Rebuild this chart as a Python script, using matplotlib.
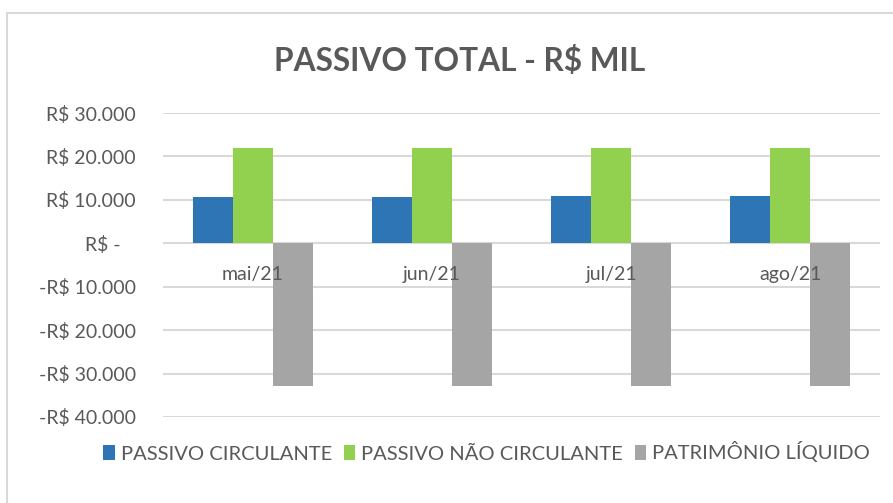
import matplotlib.pyplot as plt
import numpy as np
from matplotlib.patches import Rectangle

# dados (R$ mil)
meses = ['mai/21', 'jun/21', 'jul/21', 'ago/21']
passivo_circulante = [10700, 10700, 11000, 11000]
passivo_nao_circulante = [21900, 21900, 21900, 21900]
patrimonio_liquido = [-32800, -32800, -32800, -32800]
series_nomes = ['PASSIVO CIRCULANTE', 'PASSIVO NÃO CIRCULANTE', 'PATRIMÔNIO LÍQUIDO']
cores = ['#2e75b6', '#92d050', '#a5a5a5']
yticks = [30000, 20000, 10000, 0, -10000, -20000, -30000, -40000]
ytick_labels = ['R$ 30.000', 'R$ 20.000', 'R$ 10.000', 'R$ -   ',
                '-R$ 10.000', '-R$ 20.000', '-R$ 30.000', '-R$ 40.000']

plt.rcParams['font.family'] = ['Lato', 'DejaVu Sans']
cinza_txt = '#595959'

fig = plt.figure(figsize=(8.93, 5.03), dpi=100)
ax = fig.add_axes([163/893, 1-417/503, (880-163)/893, (417-113)/503])

x = np.arange(len(meses))
w = 0.223
valores = [passivo_circulante, passivo_nao_circulante, patrimonio_liquido]
for i, (v, c, n) in enumerate(zip(valores, cores, series_nomes)):
    ax.bar(x + (i-1)*w, v, w, color=c, label=n, zorder=2)

# eixo x passando pelo zero (antes de configurar os rótulos)
ax.spines['bottom'].set_position(('data', 0))
for s in ['top', 'right', 'left', 'bottom']:
    ax.spines[s].set_visible(False)

ax.set_xlim(-0.5, len(meses)-0.5)
ax.set_ylim(-40000, 30000)
ax.set_yticks(yticks)
ax.set_yticklabels(ytick_labels, fontsize=14, color=cinza_txt)
ax.yaxis.grid(True, color='#d9d9d9', linewidth=1.5)
ax.set_axisbelow(True)
ax.xaxis.set_zorder(5)  # rótulos dos meses por cima das barras

ax.set_xticks(x)
ax.set_xticklabels(meses, fontsize=14, color=cinza_txt)
ax.tick_params(axis='x', length=0, pad=16)
ax.tick_params(axis='y', length=0, pad=19.5)

fig.text(0.515, 1-61/503, 'PASSIVO TOTAL - R$ MIL', ha='center', va='center',
         fontsize=22.8, fontweight='bold', color=cinza_txt)

fig.legend(loc='center', bbox_to_anchor=(0.545, 1-452/503), ncol=3, frameon=False,
           fontsize=14.5, labelcolor=cinza_txt, handlelength=0.55, handleheight=0.7,
           handletextpad=0.3, columnspacing=0.6)

# borda da área do gráfico
fig.patches.append(Rectangle((7/893, -0.2), 2, 1-13/503+0.2, transform=fig.transFigure,
                             fill=False, edgecolor='#d9d9d9', linewidth=1.5))

fig.savefig('out.png', dpi=100)
